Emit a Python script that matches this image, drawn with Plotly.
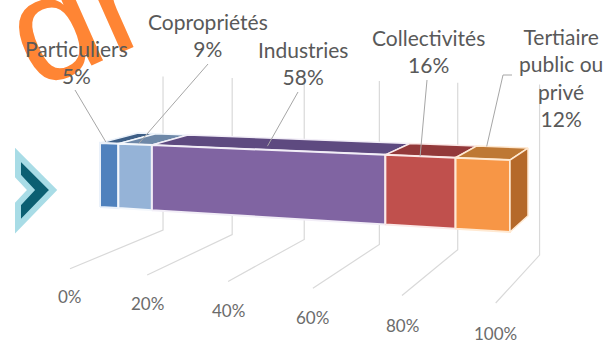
import plotly.graph_objects as go

# ---- data -------------------------------------------------------------
categories = ["Particuliers", "Copropriétés", "Industries", "Collectivités", "Tertiaire public ou privé"]
label_names = ["Particuliers", "Copropriétés", "Industries", "Collectivités", "Tertiaire<br>public ou<br>privé"]
shares = [5, 9, 58, 16, 12]
tick_values = [0, 20, 40, 60, 80, 100]
tick_labels = ["0%", "20%", "40%", "60%", "80%", "100%"]

# ---- styles -----------------------------------------------------------
front_colors = ["#4F81BD", "#95B3D7", "#8064A2", "#C0504D", "#F79646"]
top_colors = ["#3E5F86", "#6E88A8", "#5E4A80", "#93393A", "#BE7834"]
side_color = "#B5692A"
edge_colors = ["#EAF1FA", "#F3F7FC", "#F2EEF7", "#FBE9E8", "#FFE9D2"]
text_color = "#595959"
grid_color = "#D9D9D9"
leader_color = "#A6A6A6"
FONT = "Lato"

# ---- perspective camera -------------------------------------------------
# v: value (0..100), h: height (bar bottom 0, top 1), d: depth (bar front 0, back 1)
CAM = dict(x0=100.0, y0=207.0, ax=3.5413, ay=-0.0041, aw=-0.0010954,
           hy=64.1, dx=46.04, dy=-2.27, dw=0.05684)
FLOOR_H = -0.769      # floor level
WALL_D = 1.7136       # back wall depth
FRONT_D = -0.713      # front edge of floor
WALL_TOP = 1.86       # top of the back wall
TICK_H = FLOOR_H - 0.41


def project(v, h, d):
    c = CAM
    w = 1 + c["aw"] * v + c["dw"] * d
    x = (c["x0"] + c["ax"] * v + c["dx"] * d) / w
    y = (c["y0"] + c["ay"] * v - c["hy"] * h + c["dy"] * d) / w
    return x, y


def poly(pts):
    xs, ys = zip(*[project(*p) for p in pts])
    return list(xs) + [xs[0]], list(ys) + [ys[0]]


fig = go.Figure()

# ---- watermark (drawn first so the labels sit on top of it) -------------
fig.add_annotation(x=75, y=16, xref="x", yref="y", text="dr", showarrow=False,
                   textangle=-24,
                   font=dict(family="Liberation Sans", size=150, color="#FF8534"))

# ---- gridlines on back wall and floor ----------------------------------
for v in tick_values:
    xs, ys = zip(project(v, WALL_TOP, WALL_D), project(v, FLOOR_H, WALL_D),
                 project(v, FLOOR_H, FRONT_D))
    fig.add_trace(go.Scatter(x=list(xs), y=list(ys), mode="lines",
                             line=dict(color=grid_color, width=1.2),
                             hoverinfo="skip"))

# ---- stacked 3-D bar ---------------------------------------------------
starts = []
acc = 0
for s in shares:
    starts.append(acc)
    acc += s

for i, s in enumerate(shares):
    v0, v1 = starts[i], starts[i] + s
    # top face
    x, y = poly([(v0, 1, 0), (v1, 1, 0), (v1, 1, 1), (v0, 1, 1)])
    fig.add_trace(go.Scatter(x=x, y=y, mode="lines", fill="toself",
                             fillcolor=top_colors[i],
                             line=dict(color=edge_colors[i], width=1.5),
                             hoverinfo="skip"))
    # front face
    x, y = poly([(v0, 0, 0), (v1, 0, 0), (v1, 1, 0), (v0, 1, 0)])
    fig.add_trace(go.Scatter(x=x, y=y, mode="lines", fill="toself",
                             fillcolor=front_colors[i],
                             line=dict(color=edge_colors[i], width=2),
                             name=categories[i], hoverinfo="name"))

# right end face of the last segment
v_end = starts[-1] + shares[-1]
x, y = poly([(v_end, 0, 0), (v_end, 1, 0), (v_end, 1, 1), (v_end, 0, 1)])
fig.add_trace(go.Scatter(x=x, y=y, mode="lines", fill="toself",
                         fillcolor=side_color,
                         line=dict(color=edge_colors[-1], width=1.5),
                         hoverinfo="skip"))

# ---- data labels with leader lines --------------------------------------
label_pos = [(76, 62), (208, 35), (303, 63), (428, 51), (561, 77)]
leader_from = [[(75, 90)], [(208, 64)], [(298, 92)], [(427, 80)], [(512, 75), (503, 75)]]
leader_anchor = [(0.1, 0.1), (0.5, 0.1), (0.47, 0.3), (0.5, 0.0), (0.2, 1.0)]

for i, s in enumerate(shares):
    frac, dep = leader_anchor[i]
    ax_, ay_ = project(starts[i] + frac * s, 1, dep)
    pts = leader_from[i] + [(ax_, ay_)]
    fig.add_trace(go.Scatter(x=[p[0] for p in pts], y=[p[1] for p in pts],
                             mode="lines", line=dict(color=leader_color, width=1),
                             hoverinfo="skip"))
    fig.add_annotation(x=label_pos[i][0], y=label_pos[i][1], xref="x", yref="y",
                       text=f"{label_names[i]}<br>{s}%", showarrow=False,
                       align="center", font=dict(family=FONT, size=21, color=text_color))

# ---- value axis tick labels ---------------------------------------------
for v, t in zip(tick_values, tick_labels):
    tx, ty = project(v, TICK_H, FRONT_D)
    fig.add_annotation(x=tx, y=ty, xref="x", yref="y", text=t, showarrow=False,
                       font=dict(family=FONT, size=17, color="#6B6B6B"))

# ---- decoration: chevron -------------------------------------------------
fig.add_shape(type="path", xref="x", yref="y",
              path="M 18 155 L 53 190 L 18 226 L 18 204 L 31 190 L 18 176 Z",
              fillcolor="#0B5F72", line=dict(color="#A8DCE6", width=6), layer="above")

fig.update_layout(
    width=613, height=343,
    margin=dict(l=0, r=0, t=0, b=0),
    paper_bgcolor="white", plot_bgcolor="white",
    showlegend=False,
    xaxis=dict(range=[0, 613], visible=False, fixedrange=True),
    yaxis=dict(range=[343, 0], visible=False, fixedrange=True),
)

fig.write_html("out.html")
